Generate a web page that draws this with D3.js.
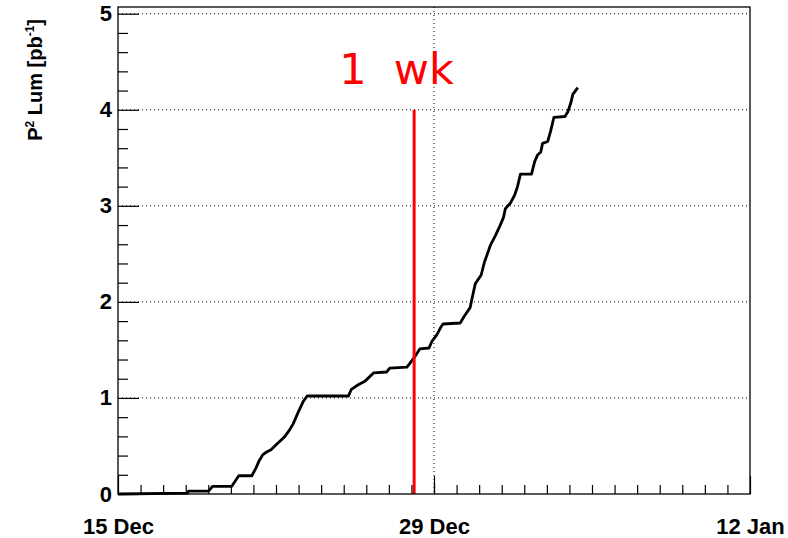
<!DOCTYPE html>
<html>
<head>
<meta charset="utf-8">
<script src="https://cdn.jsdelivr.net/npm/d3@7"></script>
<style>
  body { margin: 0; background: #fff; }
  #graph { width: 788px; height: 538px; }
  text { font-family: "Liberation Sans", Arial, sans-serif; }
</style>
</head>
<body>
<div id="graph"></div>
<script>
// days after 15 Dec and cumulative luminosity
const dayOffsets = [0, 3.08, 3.12, 4.01, 4.19, 5.04, 5.35, 5.93, 6.11, 6.24, 6.42, 6.60, 6.78,
  7.04, 7.36, 7.58, 7.76, 7.98, 8.20, 8.38, 10.21, 10.34, 10.66, 10.92, 11.32, 11.90, 12.04,
  12.80, 12.93, 13.15, 13.37, 13.78, 13.91, 14.13, 14.31, 14.40, 15.16, 15.34, 15.60, 15.69,
  15.83, 16.09, 16.23, 16.50, 16.72, 16.90, 17.08, 17.16, 17.39, 17.57, 17.70, 17.83, 18.32,
  18.46, 18.59, 18.73, 18.81, 19.04, 19.17, 19.31, 19.80, 19.93, 20.06, 20.15, 20.37];
const lumValues = [0, 0.01, 0.03, 0.03, 0.08, 0.08, 0.19, 0.19, 0.27, 0.34, 0.41, 0.44, 0.46,
  0.52, 0.59, 0.66, 0.73, 0.85, 0.96, 1.02, 1.02, 1.09, 1.14, 1.17, 1.26, 1.27, 1.31,
  1.32, 1.36, 1.43, 1.51, 1.52, 1.59, 1.66, 1.74, 1.77, 1.78, 1.85, 1.94, 2.04,
  2.19, 2.28, 2.41, 2.59, 2.69, 2.78, 2.88, 2.97, 3.03, 3.11, 3.20, 3.33, 3.33,
  3.46, 3.53, 3.56, 3.65, 3.67, 3.78, 3.92, 3.93, 3.98, 4.07, 4.16, 4.23];

const xTickLabels = ["15 Dec", "29 Dec", "12 Jan"];
const xTickDays = [0, 14, 28];
const yTicks = [0, 1, 2, 3, 4, 5];
const markerDay = 13.12;   // "1 wk" marker
const markerTop = 4;
const markerLabel = "1  wk";

const startDate = new Date(2011, 11, 15);
const toDate = d => new Date(startDate.getTime() + d * 864e5);

const margin = { top: 7, right: 38, bottom: 44, left: 118 };
const width = 788 - margin.left - margin.right;
const height = 538 - margin.top - margin.bottom;

const svg = d3.select("#graph").append("svg")
  .attr("width", 788).attr("height", 538)
  .append("g")
  .attr("transform", "translate(" + margin.left + "," + margin.top + ")");

const x = d3.scaleTime().domain([toDate(0), toDate(28)]).range([0, width]);
const y = d3.scaleLinear().domain([0, 5.07]).range([height, 0]);

// grid at major ticks
svg.selectAll("line.hgrid").data(yTicks.slice(1)).enter().append("line")
  .attr("class", "hgrid")
  .attr("x1", 0).attr("x2", width)
  .attr("y1", d => y(d)).attr("y2", d => y(d))
  .attr("stroke", "#000").attr("stroke-width", 1).attr("stroke-dasharray", "1,3");
svg.selectAll("line.vgrid").data(xTickDays.slice(1, -1)).enter().append("line")
  .attr("class", "vgrid")
  .attr("x1", d => x(toDate(d))).attr("x2", d => x(toDate(d)))
  .attr("y1", 0).attr("y2", height)
  .attr("stroke", "#000").attr("stroke-width", 1).attr("stroke-dasharray", "1,3");

// curve
const line = d3.line()
  .x(d => x(toDate(d[0])))
  .y(d => y(d[1]));
svg.append("path")
  .datum(dayOffsets.map((d, i) => [d, lumValues[i]]))
  .attr("d", line)
  .attr("fill", "none")
  .attr("stroke", "#000")
  .attr("stroke-width", 2.8)
  .attr("stroke-linejoin", "round");

// marker
svg.append("line")
  .attr("x1", x(toDate(markerDay))).attr("x2", x(toDate(markerDay)))
  .attr("y1", y(0)).attr("y2", y(markerTop))
  .attr("stroke", "#ff0000").attr("stroke-width", 3);
svg.append("text")
  .attr("x", x(toDate(markerDay)) - 75)
  .attr("y", 77)
  .attr("fill", "#ff0000")
  .style("font-family", "'DejaVu Sans', sans-serif")
  .style("font-size", "43px")
  .style("white-space", "pre")
  .text(markerLabel);

// axes
const xMajor = d3.axisBottom(x)
  .tickValues(xTickDays.map(toDate))
  .tickSize(-18).tickPadding(24)
  .tickFormat((d, i) => xTickLabels[i]);
const xMinor = d3.axisBottom(x)
  .tickValues(d3.range(1, 28).map(toDate))
  .tickSize(-9).tickFormat("");
const yMajor = d3.axisLeft(y)
  .tickValues(yTicks).tickSize(-21).tickPadding(6)
  .tickFormat(d3.format("d"));
const yMinor = d3.axisLeft(y)
  .tickValues(d3.range(0, 25).map(i => i * 0.2).filter(v => v % 1 !== 0 && v < 5.07))
  .tickSize(-10).tickFormat("");

[[xMinor, true], [xMajor, true], [yMinor, false], [yMajor, false]].forEach(([ax, isX]) => {
  const g = svg.append("g").call(ax);
  if (isX) g.attr("transform", "translate(0," + height + ")");
  g.select(".domain").remove();
  g.selectAll(".tick line").attr("stroke", "#000").attr("stroke-width", 1.2);
  g.selectAll("text").attr("fill", "#000")
    .style("font-weight", "bold").style("font-size", "22px")
    .style("font-family", "'Liberation Sans', Arial, sans-serif");
});

// frame
svg.append("rect")
  .attr("width", width).attr("height", height)
  .attr("fill", "none").attr("stroke", "#000").attr("stroke-width", 1.3);

// y title
svg.append("text")
  .attr("transform", "translate(-76,0) rotate(-90)")
  .attr("text-anchor", "end")
  .attr("x", -12)
  .style("font-weight", "bold").style("font-size", "20px")
  .html('P<tspan dy="-8" font-size="12px">2</tspan><tspan dy="8"> Lum [pb</tspan><tspan dy="-8" font-size="12px">-1</tspan><tspan dy="8">]</tspan>');
</script>
</body>
</html>
